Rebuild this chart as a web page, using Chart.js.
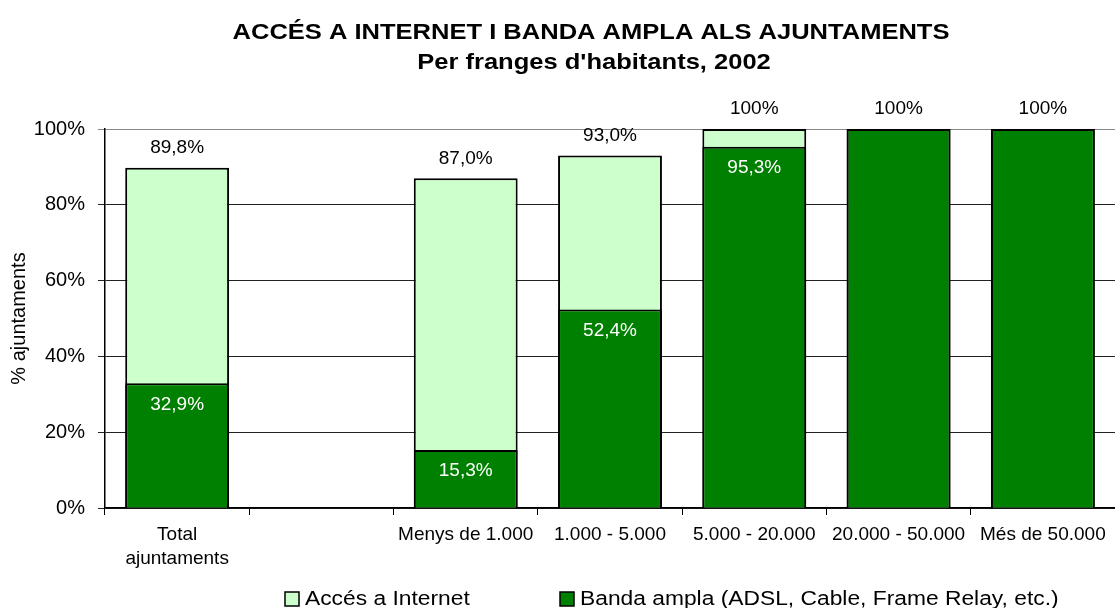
<!DOCTYPE html>
<html>
<head>
<meta charset="utf-8">
<script src="https://cdn.jsdelivr.net/npm/chart.js@4.4.1/dist/chart.umd.min.js"></script>
<style>
  html, body { margin: 0; padding: 0; background: #fff; }
  #wrap { width: 1115px; height: 608px; position: relative; }
</style>
</head>
<body>
<div id="wrap"><canvas id="myChart" width="1115" height="608"></canvas></div>
<script>
// Data
const categories = [["Total", "ajuntaments"], "", "Menys de 1.000", "1.000 - 5.000", "5.000 - 20.000", "20.000 - 50.000", "Més de 50.000"];
const accesInternet = [89.8, null, 87.0, 93.0, 100, 100, 100];
const bandaAmpla = [32.9, null, 15.3, 52.4, 95.3, 100, 100];
const yTicks = [0, 20, 40, 60, 80, 100];

const seriesNames = ["Accés a Internet", "Banda ampla (ADSL, Cable, Frame Relay, etc.)"];
const colors = ["#CCFFCC", "#008000"];
const FONT = "'Liberation Sans', Arial, sans-serif";

const fmt = v => v === 100 ? "100%" : v.toFixed(1).replace(".", ",") + "%";

// text drawn a bit wider than the font, like the original
const wideText = (ctx, text, x, y, sx) => {
    ctx.save();
    ctx.translate(x, y);
    ctx.scale(sx, 1);
    ctx.fillText(text, 0, 0);
    ctx.restore();
};

// value labels, title and legend
const labelPlugin = {
    id: 'labels',
    afterDatasetsDraw(chart) {
        const ctx = chart.ctx;
        ctx.save();
        ctx.textAlign = 'center';
        ctx.textBaseline = 'middle';
        ctx.font = "19px " + FONT;
        const m0 = chart.getDatasetMeta(0);
        const m1 = chart.getDatasetMeta(1);
        accesInternet.forEach((v, i) => {
            if (v == null) return;
            const bar = m0.data[i];
            ctx.fillStyle = '#000';
            ctx.fillText(fmt(v), bar.x, bar.y - 20);
        });
        bandaAmpla.forEach((v, i) => {
            if (v == null || v >= 100) return;
            const bar = m1.data[i];
            ctx.fillStyle = '#fff';
            ctx.fillText(fmt(v), bar.x, bar.y + 21);
        });
        ctx.restore();
    },
    afterDraw(chart) {
        const ctx = chart.ctx;
        ctx.save();
        ctx.fillStyle = '#000';
        ctx.textAlign = 'center';
        ctx.textBaseline = 'middle';
        ctx.font = "bold 22px " + FONT;
        wideText(ctx, "ACCÉS A INTERNET I BANDA AMPLA ALS AJUNTAMENTS", 591, 33, 1.16);
        wideText(ctx, "Per franges d'habitants, 2002", 594, 63, 1.16);

        // legend
        ctx.font = "20px " + FONT;
        ctx.textAlign = 'left';
        const items = [[285, seriesNames[0], colors[0]], [560, seriesNames[1], colors[1]]];
        items.forEach(([x, name, c]) => {
            ctx.fillStyle = c;
            ctx.fillRect(x, 592, 14, 14);
            ctx.strokeStyle = '#000';
            ctx.lineWidth = 1.5;
            ctx.strokeRect(x, 592, 14, 14);
            ctx.fillStyle = '#000';
            wideText(ctx, name, x + 20, 599, 1.14);
        });
        ctx.restore();
    }
};

const ctx = document.getElementById("myChart").getContext("2d");
new Chart(ctx, {
    type: 'bar',
    data: {
        labels: categories,
        datasets: [
            {
                label: seriesNames[0],
                data: accesInternet,
                backgroundColor: colors[0],
                borderColor: '#000',
                borderWidth: 2,
                barPercentage: 0.72,
                categoryPercentage: 1,
                order: 1
            },
            {
                label: seriesNames[1],
                data: bandaAmpla,
                backgroundColor: colors[1],
                borderColor: '#000',
                borderWidth: 2,
                barPercentage: 0.72,
                categoryPercentage: 1,
                order: 0
            }
        ]
    },
    options: {
        responsive: false,
        animation: false,
        layout: { padding: { top: 129, right: 0, left: 0, bottom: 0 } },
        plugins: {
            legend: { display: false },
            title: { display: false },
            tooltip: { enabled: false }
        },
        scales: {
            x: {
                stacked: true,
                grid: {
                    offset: true,
                    drawOnChartArea: false,
                    tickLength: 7,
                    color: '#000'
                },
                border: { color: '#000', width: 1.5 },
                ticks: { color: '#000', font: { family: FONT, size: 19, lineHeight: 1.3 }, padding: 7, maxRotation: 0, autoSkip: false },
                afterFit: s => { s.height = 100; }
            },
            y: {
                stacked: false,
                min: 0,
                max: 100,
                afterBuildTicks: s => { s.ticks = yTicks.map(v => ({ value: v })); },
                grid: {
                    color: c => c.tick && c.tick.value === 100 ? '#888' : '#222',
                    tickLength: 7
                },
                border: { color: '#000', width: 1.5 },
                ticks: {
                    color: '#000',
                    font: { family: FONT, size: 20 },
                    padding: 13,
                    callback: v => v + '%'
                },
                title: {
                    display: true,
                    text: '% ajuntaments',
                    color: '#000',
                    font: { family: FONT, size: 20 },
                    padding: { top: 7, bottom: 0 }
                },
                afterFit: s => { s.width = 105; }
            }
        }
    },
    plugins: [labelPlugin]
});
</script>
</body>
</html>
